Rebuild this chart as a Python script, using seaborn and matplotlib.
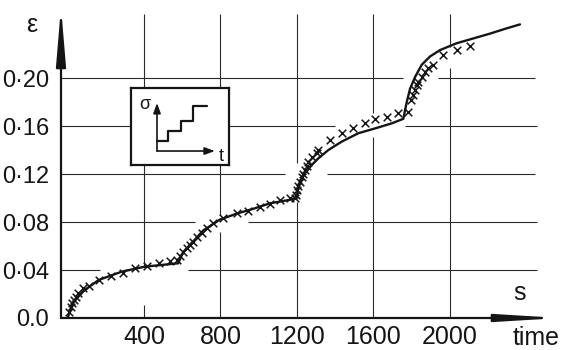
import numpy as np
import pandas as pd
import matplotlib
matplotlib.use("Agg")
import matplotlib.pyplot as plt
import seaborn as sns

# ---- data -------------------------------------------------------------
# fitted creep curve under stepwise loading (time in s, strain)
curve_t = [0, 32, 90, 163, 283, 405, 579, 605, 658, 710, 797, 885, 971,
           1059, 1146, 1198, 1207, 1242, 1277, 1311, 1364, 1434, 1521, 1608,
           1695, 1756, 1774, 1791, 1818, 1852, 1896, 1948, 2035, 2122, 2209,
           2296, 2366]
curve_eps = [0.0, 0.0136, 0.0233, 0.0317, 0.0386, 0.0428, 0.0456, 0.055,
             0.064, 0.073, 0.082, 0.087, 0.091, 0.0956, 0.098, 0.0997, 0.111,
             0.1206, 0.1275, 0.133, 0.140, 0.147, 0.154, 0.158, 0.1622, 0.166,
             0.180, 0.191, 0.201, 0.211, 0.218, 0.2233, 0.229, 0.233, 0.237,
             0.2414, 0.2447]

# measured strain
meas_t = [10, 17, 25, 32, 42, 57, 83, 112, 163, 228, 289, 353, 414, 480, 536,
          571, 588, 605, 623, 641, 658, 676, 702, 728, 763, 815, 885, 946,
          1007, 1059, 1111, 1163, 1190,
          1195, 1199, 1207, 1216, 1225, 1233, 1242, 1251, 1260, 1277, 1303,
          1311, 1373, 1434, 1494, 1556, 1608, 1669, 1730, 1783,
          1795, 1808, 1817, 1826, 1834, 1852, 1869, 1887, 1913, 1965, 2035,
          2105]
meas_eps = [0.0053, 0.0094, 0.0122, 0.015, 0.0172, 0.0206, 0.0247, 0.0267,
            0.0317, 0.035, 0.0378, 0.0414, 0.0433, 0.0456, 0.0475,
            0.0483, 0.0517, 0.0553, 0.0581, 0.0608, 0.0636, 0.0672, 0.0711,
            0.0747, 0.0789, 0.0831, 0.0872, 0.0894, 0.0922, 0.095, 0.0983,
            0.0997, 0.0997,
            0.1025, 0.1067, 0.110, 0.1136, 0.1172, 0.120, 0.1233, 0.1267,
            0.1303, 0.1344, 0.1372, 0.140, 0.1483, 0.1539, 0.158, 0.1622,
            0.1658, 0.1678, 0.1706, 0.1719,
            0.1817, 0.1858, 0.190, 0.1942, 0.1969, 0.2011, 0.2053, 0.2081,
            0.2108, 0.2192, 0.2233, 0.2269]

x_ticks = [400, 800, 1200, 1600, 2000]
x_tick_labels = ["400", "800", "1200", "1600", "2000"]
y_ticks = [0.0, 0.04, 0.08, 0.12, 0.16, 0.20]
y_tick_labels = ["0.0", "0·04", "0·08", "0·12", "0·16", "0·20"]

# loading schedule sketch (arbitrary units)
step_t = [0, 0.92, 2.0, 3.0, 4.17]
step_sigma = [1, 2, 3, 4.5, 4.5]

curve = pd.DataFrame({"t": curve_t, "eps": curve_eps})
meas = pd.DataFrame({"t": meas_t, "eps": meas_eps})
steps = pd.DataFrame({"t": step_t, "sigma": step_sigma})

# ---- style ------------------------------------------------------------
sns.set_style("white")
plt.rcParams["font.family"] = ["Liberation Sans", "DejaVu Sans"]
INK = "#151515"
GRID = "#2a2a2a"

W, H = 563, 350
fig = plt.figure(figsize=(W / 100, H / 100), dpi=100, facecolor="white")
ax = fig.add_axes([61 / W, (H - 318) / H, (W - 61) / W, (318 - 7) / H])
ax.set_facecolor("white")
ax.set_xlim(-34, 2591)
ax.set_ylim(0, 0.2592)
for sp in ax.spines.values():
    sp.set_visible(False)

# grid, broken where the curve passes
grid_top = 0.2533
grid_right = 2455
h_segments = {
    0.20: [(-34, 1754), (1937, 2444)],
    0.16: [(-34, 1397), (1765, grid_right)],
    0.12: [(-34, 1138), (1357, 2444)],
    0.08: [(-34, 667), (944, grid_right)],
    0.04: [(-34, 170), (630, grid_right)],
}
v_segments = {
    400: [(0, 0.0108), (0.0425, grid_top)],
    800: [(0, 0.0717), (0.0858, grid_top)],
    1200: [(0, 0.0967), (0.129, grid_top)],
    1600: [(0, 0.1508), (0.1708, grid_top)],
    2000: [(0, 0.2083), (0.2258, grid_top)],
}
for yv, segs in h_segments.items():
    for a, b in segs:
        ax.hlines(yv, a, b, color=GRID, lw=0.8, zorder=1)
for xv, segs in v_segments.items():
    for a, b in segs:
        ax.vlines(xv, a, b, color=GRID, lw=0.8, zorder=1)

# curve and measurements
sns.lineplot(data=curve, x="t", y="eps", sort=False, color=INK, lw=1.7,
             ax=ax, zorder=4)
sns.scatterplot(data=meas, x="t", y="eps", marker="x", s=30, color=INK,
                linewidth=1.1, ax=ax, zorder=5)
ax.set_xlabel("")
ax.set_ylabel("")

# ticks
ax.set_xticks(x_ticks)
ax.set_xticklabels(x_tick_labels)
ax.set_yticks(y_ticks)
ax.set_yticklabels(y_tick_labels)
ax.tick_params(axis="x", direction="inout", length=6, width=1.0,
               color=INK, labelcolor=INK, labelsize=18, pad=2)
ax.tick_params(axis="y", direction="out", length=3, width=1.0,
               color=INK, labelcolor=INK, labelsize=17, pad=5.5)

# axis arrows
ax.annotate("", xy=(0, 1), xytext=(0, 0), xycoords="axes fraction",
            textcoords="axes fraction",
            arrowprops=dict(arrowstyle="-|>,head_length=3.45,head_width=0.29",
                            lw=1.6, color=INK, shrinkA=0, shrinkB=0),
            annotation_clip=False, zorder=6)
ax.annotate("", xy=(0.994, 0), xytext=(0, 0), xycoords="axes fraction",
            textcoords="axes fraction",
            arrowprops=dict(arrowstyle="-|>,head_length=3.6,head_width=0.22",
                            lw=1.6, color=INK, shrinkA=0, shrinkB=0),
            annotation_clip=False, zorder=6)

# axis captions
fig.text(32 / W, 1 - 25 / H, "ε", fontsize=18, color=INK,
         ha="center", va="center")
fig.text(520 / W, 1 - 293 / H, "s", fontsize=18, color=INK,
         ha="center", va="center")
fig.text(513 / W, 1 - 345 / H, "time", fontsize=18, color=INK,
         ha="left", va="baseline")

# inset: loading schedule
ins = ax.inset_axes([332, 0.1275, 512, 0.0642], transform=ax.transData,
                    zorder=8)
ins.set_facecolor("white")
for sp in ins.spines.values():
    sp.set_visible(True)
    sp.set_color(INK)
    sp.set_linewidth(1.6)
ins.set_xticks([])
ins.set_yticks([])
ins.set_xlim(-2.17, 6.0)
ins.set_ylim(-1.4, 6.3)
sns.lineplot(data=steps, x="t", y="sigma", drawstyle="steps-post",
             color=INK, lw=1.6, ax=ins)
ins.set_xlabel("")
ins.set_ylabel("")
ins.annotate("", xy=(0, 4.8), xytext=(0, 0),
             arrowprops=dict(arrowstyle="-|>,head_length=0.6,head_width=0.22",
                             lw=1.2, color=INK, shrinkA=0, shrinkB=0))
ins.annotate("", xy=(4.83, 0), xytext=(0, 0),
             arrowprops=dict(arrowstyle="-|>,head_length=0.6,head_width=0.22",
                             lw=1.2, color=INK, shrinkA=0, shrinkB=0))
ins.text(-1.0, 4.6, "σ", fontsize=13, color=INK, ha="center", va="center")
ins.text(5.4, -0.5, "t", fontsize=13, color=INK, ha="center", va="center")

fig.savefig("out.png", dpi=100, facecolor="white")
